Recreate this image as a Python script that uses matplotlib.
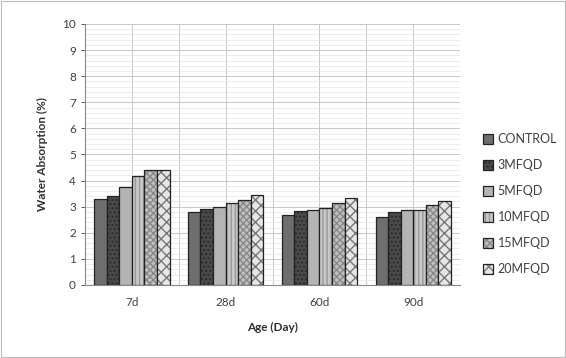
import matplotlib
matplotlib.use("Agg")
import matplotlib.pyplot as plt
import numpy as np
from matplotlib.ticker import MultipleLocator

plt.rcParams['font.family'] = ['Lato', 'DejaVu Sans']

categories = ['7d', '28d', '60d', '90d']
series_names = ['CONTROL', '3MFQD', '5MFQD', '10MFQD', '15MFQD', '20MFQD']
control = [3.3, 2.8, 2.7, 2.62]
m3 = [3.4, 2.92, 2.85, 2.78]
m5 = [3.75, 3.0, 2.86, 2.87]
m10 = [4.18, 3.15, 2.95, 2.88]
m15 = [4.4, 3.25, 3.15, 3.05]
m20 = [4.42, 3.45, 3.33, 3.2]
values = [control, m3, m5, m10, m15, m20]

facecolors = ['#6e6e6e', '#4a4a4a', '#b4b4b4', '#c8c8c8', '#c0c0c0', '#e6e6e6']
hatches = ['', '....', '', '||||', 'xxxxx', 'xxx']
hatchcolors = ['#6e6e6e', '#2a2a2a', '#b4b4b4', '#999999', '#888888', '#777777']

fig = plt.figure(figsize=(5.66, 3.58), dpi=100)
ax = fig.add_axes([0.150, 0.204, 0.663, 0.729])

x = np.arange(len(categories))
n = len(series_names)
w = 0.134
for i, (name, vals) in enumerate(zip(series_names, values)):
    pos = x + (i - (n - 1) / 2) * w
    bars = ax.bar(pos, vals, width=w, color=facecolors[i], edgecolor='#222222',
                  linewidth=0.9, hatch=hatches[i], label=name, zorder=3)
    for b in bars:
        b._hatch_color = matplotlib.colors.to_rgba(hatchcolors[i])

ax.set_xlim(-0.5, len(categories) - 0.5)
ax.set_ylim(0, 10)
ax.yaxis.set_major_locator(MultipleLocator(1))
ax.yaxis.set_minor_locator(MultipleLocator(0.2))
ax.grid(axis='y', which='major', color='#c8c8c8', linewidth=0.7, zorder=0)
ax.grid(axis='y', which='minor', color='#e4e4e4', linewidth=0.5, zorder=0)
for xv in np.arange(-0.5, len(categories), 0.5):
    ax.axvline(xv, color='#c8c8c8', linewidth=0.7, zorder=0)

ax.set_xticks(x)
ax.set_xticklabels(categories)
ax.tick_params(axis='both', labelsize=8.5, colors='#404040', length=3, width=0.6)
ax.tick_params(axis='y', which='minor', length=0)
ax.tick_params(axis='x', length=0, pad=9)
for s in ['top', 'right']:
    ax.spines[s].set_visible(False)
ax.spines['left'].set_color('#888888')
ax.spines['bottom'].set_color('#888888')

ax.set_xlabel('Age (Day)', fontsize=8.5, fontweight='bold', color='#303030', labelpad=10)
ax.set_ylabel('Water Absorption (%)', fontsize=8.5, fontweight='bold', color='#303030', labelpad=10)

leg = ax.legend(loc='center left', bbox_to_anchor=(1.03, 0.31), frameon=False,
                fontsize=9, labelspacing=1.12, handlelength=0.8, handleheight=0.8,
                handletextpad=0.4, labelcolor='#404040')

border = plt.Rectangle((0.002, 0.003), 0.996, 0.994, transform=fig.transFigure,
                       fill=False, edgecolor='#bbbbbb', linewidth=0.8)
fig.patches.append(border)

fig.savefig('out.png', dpi=100)
